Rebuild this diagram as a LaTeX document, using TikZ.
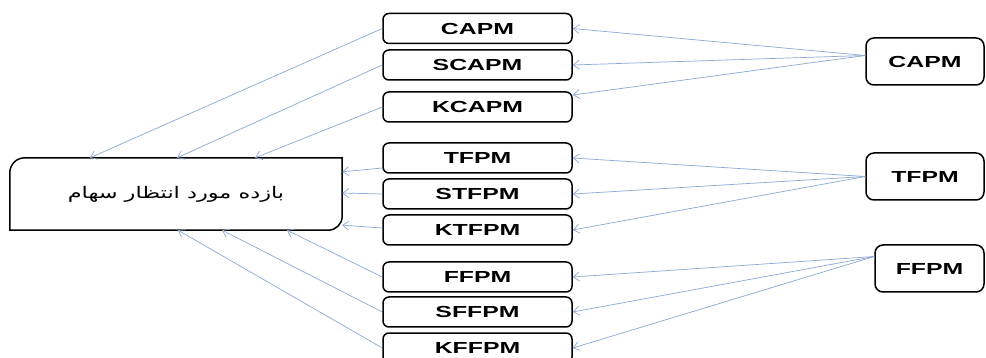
\documentclass[tikz,border=0pt]{standalone}
\usepackage{fontspec}
\TeXXeTstate=1
\newfontfamily\boxfont[FakeStretch=1.55,BoldFont={Liberation Sans Bold}]{Liberation Sans}
\newfontfamily\arabicfont[Script=Arabic,FakeStretch=1.4]{DejaVu Sans}
\usetikzlibrary{arrows.meta,calc}
\definecolor{linkblue}{RGB}{140,168,214}
\begin{document}
\begin{tikzpicture}[x=1pt,y=-1pt,
  midbox/.style={draw=black,line width=1.5pt,rounded corners=6pt,minimum width=189pt,minimum height=30pt,inner sep=0pt,font=\boxfont\bfseries\fontsize{16}{18}\selectfont},
  srcbox/.style={draw=black,line width=1.5pt,rounded corners=8pt,minimum height=47pt,inner sep=0pt,font=\boxfont\bfseries\fontsize{16}{18}\selectfont},
  link/.style={draw=linkblue,line width=0.7pt,-{Straight Barb[length=6pt,width=9pt,line width=0.7pt]}}]
\clip (0,0) rectangle (986,358);
\fill[white] (0,0) rectangle (986,358);
% left box
\node[minimum width=332pt,minimum height=72pt,inner sep=0pt,font=\arabicfont\fontsize{16}{18}\selectfont] (L) at (176,194) {\beginR بازده مورد انتظار سهام\endR};
\draw[line width=1.5pt] ([yshift=-15pt]L.north west) to[out=90,in=180] ([xshift=15pt]L.north west) -- (L.north east) -- ([yshift=14pt]L.south east) to[out=-90,in=0] ([xshift=-14pt]L.south east) -- (L.south west) -- cycle;
% middle boxes
\node[midbox] (C1) at (477.5,28.5) {CAPM};
\node[midbox] (C2) at (477.5,65) {SCAPM};
\node[midbox] (C3) at (477.5,107) {KCAPM};
\node[midbox] (T1) at (477.5,158) {TFPM};
\node[midbox] (T2) at (477.5,194) {STFPM};
\node[midbox] (T3) at (477.5,230) {KTFPM};
\node[midbox] (F1) at (477.5,277) {FFPM};
\node[midbox] (F2) at (477.5,312) {SFFPM};
\node[midbox] (F3) at (477.5,348) {KFFPM};
% right boxes
\node[srcbox,minimum width=118pt] (RC) at (925,61.5) {CAPM};
\node[srcbox,minimum width=118pt] (RT) at (925,176.5) {TFPM};
\node[srcbox,minimum width=109pt] (RF) at (929.5,268.5) {FFPM};
% source points
\coordinate (sC) at ([yshift=6pt]RC.west);
\coordinate (sT) at (RT.west);
\coordinate (sF) at ([yshift=12pt]RF.west);
% right to middle
\draw[link] (sC) -- (C1.east);
\draw[link] (sC) -- (C2.east);
\draw[link] (sC) -- ([yshift=12pt]C3.east);
\draw[link] (sT) -- (T1.east);
\draw[link] (sT) -- (T2.east);
\draw[link] (sT) -- (T3.east);
\draw[link] (sF) -- (F1.east);
\draw[link] (sF) -- (F2.east);
\draw[link] (sF) -- (F3.east);
% middle to left
\draw[link] (C1.west) -- ($(L.north west)!0.241!(L.north east)$);
\draw[link] (C2.west) -- ($(L.north west)!0.503!(L.north east)$);
\draw[link] (C3.west) -- ($(L.north west)!0.738!(L.north east)$);
\draw[link] ([yshift=-10pt]T1.west) -- ($(L.north east)!0.194!(L.south east)$);
\draw[link] (T2.west) -- ($(L.north east)!0.486!(L.south east)$);
\draw[link] ([yshift=2pt]T3.west) -- ($(L.north east)!0.93!(L.south east)$);
\draw[link] (F1.west) -- ($(L.south west)!0.834!(L.south east)$);
\draw[link] (F2.west) -- ($(L.south west)!0.639!(L.south east)$);
\draw[link] (F3.west) -- ($(L.south west)!0.506!(L.south east)$);
\end{tikzpicture}
\end{document}
